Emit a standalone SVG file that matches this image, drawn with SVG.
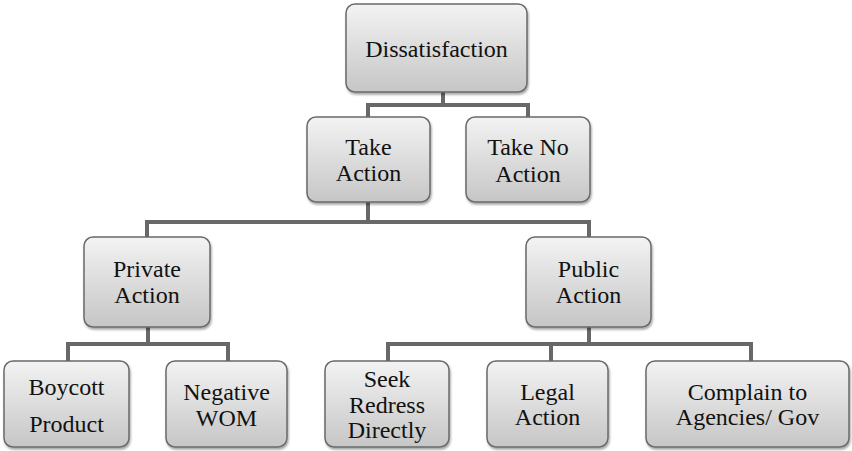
<svg xmlns="http://www.w3.org/2000/svg" width="852" height="451" viewBox="0 0 852 451">
  <defs>
    <linearGradient id="g" x1="0" y1="0" x2="0" y2="1">
      <stop offset="0" stop-color="#f3f3f3"/>
      <stop offset="1" stop-color="#c6c6c6"/>
    </linearGradient>
    <filter id="sh" x="-10%" y="-10%" width="120%" height="125%">
      <feDropShadow dx="1" dy="2" stdDeviation="1" flood-color="#000" flood-opacity="0.35"/>
    </filter>
    <style>
      .box { fill: url(#g); stroke: #6a6a6a; stroke-width: 1.5; filter: url(#sh); }
      .t { font-family: "Liberation Serif", "Times New Roman", serif; font-size: 24px; fill: #111; text-anchor: middle; }
      .c { fill: none; stroke: #686868; stroke-width: 4; stroke-linejoin: miter; }
    </style>
  </defs>
  <rect width="852" height="451" fill="#ffffff"/>

  <g id="connectors">
    <path class="c" d="M443 92 V105 M368 117 V105 H528 V117"/>
    <path class="c" d="M368 202 V222 M147 237 V222 H589 V237"/>
    <path class="c" d="M148 327 V344 M68 361 V344 H228 V361"/>
    <path class="c" d="M589 327 V344 M388 361 V344 H751 V361 M551 344 V361"/>
  </g>

  <g id="dissatisfaction">
    <rect class="box" x="346" y="4" width="181" height="88" rx="9"/>
    <text class="t" x="436.5" y="57">Dissatisfaction</text>
  </g>
  <g id="take-action">
    <rect class="box" x="307" y="117" width="123" height="85" rx="9"/>
    <text class="t" x="368.5" y="155">Take</text>
    <text class="t" x="368.5" y="181">Action</text>
  </g>
  <g id="take-no-action">
    <rect class="box" x="466" y="117" width="124" height="85" rx="9"/>
    <text class="t" x="528" y="155">Take No</text>
    <text class="t" x="528" y="182">Action</text>
  </g>
  <g id="private-action">
    <rect class="box" x="84" y="237" width="126" height="90" rx="9"/>
    <text class="t" x="147" y="277">Private</text>
    <text class="t" x="147" y="303">Action</text>
  </g>
  <g id="public-action">
    <rect class="box" x="526" y="237" width="125" height="90" rx="9"/>
    <text class="t" x="588.5" y="277">Public</text>
    <text class="t" x="588.5" y="303">Action</text>
  </g>
  <g id="boycott-product">
    <rect class="box" x="4" y="361" width="125" height="86" rx="9"/>
    <text class="t" x="66.5" y="395">Boycott</text>
    <text class="t" x="66.5" y="432">Product</text>
  </g>
  <g id="negative-wom">
    <rect class="box" x="166" y="361" width="121" height="86" rx="9"/>
    <text class="t" x="226.5" y="400">Negative</text>
    <text class="t" x="226.5" y="426">WOM</text>
  </g>
  <g id="seek-redress">
    <rect class="box" x="325" y="361" width="124" height="86" rx="9"/>
    <text class="t" x="387" y="387">Seek</text>
    <text class="t" x="387" y="413">Redress</text>
    <text class="t" x="387" y="438">Directly</text>
  </g>
  <g id="legal-action">
    <rect class="box" x="487" y="361" width="121" height="86" rx="9"/>
    <text class="t" x="547.5" y="400">Legal</text>
    <text class="t" x="547.5" y="425">Action</text>
  </g>
  <g id="complain">
    <rect class="box" x="646" y="361" width="203" height="86" rx="9"/>
    <text class="t" x="747.5" y="400">Complain to</text>
    <text class="t" x="747.5" y="425">Agencies/ Gov</text>
  </g>
</svg>
